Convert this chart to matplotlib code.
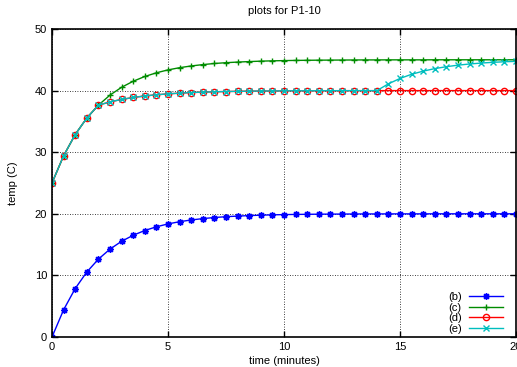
import matplotlib
matplotlib.use("Agg")
import matplotlib.pyplot as plt
from matplotlib.path import Path
import numpy as np

plt.rcParams['font.family'] = ['Liberation Sans', 'DejaVu Sans']
plt.rcParams['font.size'] = 8

# time axis, one reading every half minute
t = np.arange(0, 20.5, 0.5)

b = [0.0, 4.42, 7.87, 10.55, 12.64, 14.27, 15.54, 16.52, 17.29, 17.89,
     18.36, 18.72, 19.00, 19.22, 19.40, 19.53, 19.63, 19.71, 19.78, 19.83,
     19.87, 19.90, 19.92, 19.94, 19.95, 19.96, 19.97, 19.98, 19.98, 19.99,
     19.99, 19.99, 19.99, 20.0, 20.0, 20.0, 20.0, 20.0, 20.0, 20.0, 20.0]

c = [25.0, 29.42, 32.87, 35.55, 37.64, 39.27, 40.54, 41.52, 42.29, 42.89,
     43.36, 43.72, 44.00, 44.22, 44.40, 44.53, 44.63, 44.71, 44.78, 44.83,
     44.87, 44.90, 44.92, 44.94, 44.95, 44.96, 44.97, 44.98, 44.98, 44.99,
     44.99, 44.99, 44.99, 45.0, 45.0, 45.0, 45.0, 45.0, 45.0, 45.0, 45.0]

d = [25.0, 29.42, 32.87, 35.55, 37.64, 38.16, 38.57, 38.88, 39.13, 39.32,
     39.47, 39.59, 39.68, 39.75, 39.81, 39.85, 39.88, 39.91, 39.93, 39.94,
     39.96, 39.97, 39.97, 39.98, 39.98, 39.99, 39.99, 39.99, 39.99, 40.0,
     40.0, 40.0, 40.0, 40.0, 40.0, 40.0, 40.0, 40.0, 40.0, 40.0, 40.0]

e = [25.0, 29.42, 32.87, 35.55, 37.64, 38.16, 38.57, 38.88, 39.13, 39.32,
     39.47, 39.59, 39.68, 39.75, 39.81, 39.85, 39.88, 39.91, 39.93, 39.94,
     39.96, 39.97, 39.97, 39.98, 39.98, 39.99, 39.99, 39.99, 39.99, 41.10,
     41.97, 42.65, 43.16, 43.57, 43.88, 44.13, 44.32, 44.47, 44.59, 44.68,
     44.75]

# gnuplot style asterisk: a plus and a cross on top of each other
star = Path([(-1, 0), (1, 0), (0, -1), (0, 1),
             (-0.7, -0.7), (0.7, 0.7), (-0.7, 0.7), (0.7, -0.7)],
            [Path.MOVETO, Path.LINETO] * 4)

fig = plt.figure(figsize=(5.17, 3.67), dpi=100)
ax = fig.add_axes([0.1006, 0.0817, 0.8975, 0.8393])

ax.plot(t, b, color='#0000ff', lw=1, marker=star, ms=5, mew=1.2,
        mfc='none', mec='#0000ff', label='(b)')
ax.plot(t, c, color='#008c00', lw=1, marker='+', ms=5, mew=1, label='(c)')
ax.plot(t, d, color='#ff0000', lw=1, marker='o', ms=4.5, mfc='none', mew=1, label='(d)')
ax.plot(t, e, color='#00bebe', lw=1, marker='x', ms=4.5, mew=1, label='(e)')

ax.set_xlim(0, 20)
ax.set_ylim(0, 50)
ax.set_xticks([0, 5, 10, 15, 20])
ax.set_yticks([0, 10, 20, 30, 40, 50])
ax.tick_params(direction='in', length=4, width=1, top=True, right=True)
ax.grid(True, color='black', linestyle=(0, (1, 2)), linewidth=0.6)
for s in ax.spines.values():
    s.set_linewidth(1.2)

ax.set_title('plots for P1-10', fontsize=8, pad=11)
ax.set_xlabel('time (minutes)', labelpad=3)
ax.set_ylabel('temp (C)', labelpad=12)

leg = ax.legend(loc='lower right', bbox_to_anchor=(0.975, 0.005),
                frameon=False, markerfirst=False,
                handlelength=3.0, handletextpad=0.7, labelspacing=0.05,
                borderaxespad=0.0, borderpad=0.15, fontsize=8)

fig.savefig('out.png', dpi=100)
